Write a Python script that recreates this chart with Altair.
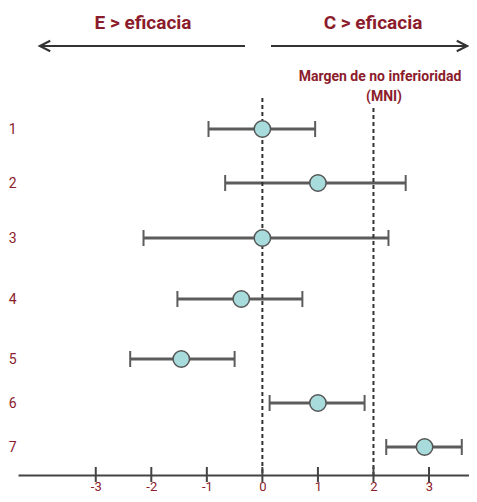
import altair as alt
import pandas as pd

rows = [1, 2, 3, 4, 5, 6, 7]
estimate = [0.0, 1.0, 0.0, -0.38, -1.46, 1.0, 2.92]
ci_low = [-0.97, -0.67, -2.14, -1.53, -2.38, 0.13, 2.23]
ci_high = [0.95, 2.58, 2.27, 0.72, -0.50, 1.84, 3.59]
x_ticks = [-3, -2, -1, 0, 1, 2, 3]
ref_lines = [0, 2]
header_left = "E > eficacia"
header_right = "C > eficacia"
mni_lines = ["Margen de no inferioridad", "(MNI)"]

df = pd.DataFrame({"row": rows, "est": estimate, "lo": ci_low, "hi": ci_high})
ticks_df = pd.DataFrame({"t": x_ticks})
one = pd.DataFrame({"a": [0]})

RED = "#8B1C2C"
FONT = "Roboto"

W, H = 451, 467
xscale = alt.Scale(domain=[-4.4, 3.72], nice=False, zero=False)
yscale = alt.Scale(domain=rows, range=[121, 175, 230, 291, 351, 395, 439])

xaxis = alt.Axis(values=x_ticks, grid=False, ticks=False, domainColor="#444",
                 domainWidth=2, labelColor=RED, labelFont=FONT, labelFontSize=13,
                 labelPadding=5, title=None, labelExpr="'' + datum.value")
yaxis = alt.Axis(values=rows, grid=False, ticks=False, domain=False, labelColor=RED,
                 labelFont=FONT, labelFontSize=14, labelPadding=2, title=None,
                 labelExpr="'' + datum.value")

base = alt.Chart(df)

ci = base.mark_rule(color="#5c5c5c", strokeWidth=3).encode(
    x=alt.X("lo:Q", scale=xscale, axis=xaxis),
    x2="hi:Q",
    y=alt.Y("row:Q", scale=yscale, axis=yaxis),
)
cap_lo = base.mark_rule(color="#5c5c5c", strokeWidth=2, yOffset=-8, y2Offset=8).encode(
    x=alt.X("lo:Q", scale=xscale), y=alt.Y("row:Q", scale=yscale), y2="row:Q")
cap_hi = base.mark_rule(color="#5c5c5c", strokeWidth=2, yOffset=-8, y2Offset=8).encode(
    x=alt.X("hi:Q", scale=xscale), y=alt.Y("row:Q", scale=yscale), y2="row:Q")
pts = base.mark_point(shape="circle", filled=True, size=270, fill="#a8dcdc",
                      stroke="#555", strokeWidth=1.5, opacity=1).encode(
    x=alt.X("est:Q", scale=xscale), y=alt.Y("row:Q", scale=yscale))

ref0 = alt.Chart(pd.DataFrame({"v": [ref_lines[0]]})).mark_rule(
    color="#333", strokeWidth=2, strokeDash=[4, 3]).encode(
    x=alt.X("v:Q", scale=xscale), y=alt.value(90), y2=alt.value(H))
ref2 = alt.Chart(pd.DataFrame({"v": [ref_lines[1]]})).mark_rule(
    color="#333", strokeWidth=2, strokeDash=[4, 3]).encode(
    x=alt.X("v:Q", scale=xscale), y=alt.value(100), y2=alt.value(H))

tick_marks = alt.Chart(ticks_df).mark_rule(color="#444", strokeWidth=2).encode(
    x=alt.X("t:Q", scale=xscale), y=alt.value(H - 8), y2=alt.value(H + 7))

hl = alt.Chart(one).mark_text(font=FONT, fontSize=19, fontWeight="bold", color=RED).encode(
    x=alt.value(125), y=alt.value(15), text=alt.value(header_left))
hr = alt.Chart(one).mark_text(font=FONT, fontSize=19, fontWeight="bold", color=RED).encode(
    x=alt.value(355), y=alt.value(15), text=alt.value(header_right))

arr_l = alt.Chart(one).mark_rule(color="#333", strokeWidth=2).encode(
    x=alt.value(22), x2=alt.value(227), y=alt.value(38))
arr_r = alt.Chart(one).mark_rule(color="#333", strokeWidth=2).encode(
    x=alt.value(253), x2=alt.value(449), y=alt.value(38))
head_l = alt.Chart(one).mark_point(shape="M1,-1L-1,0L1,1", filled=False, color="#333",
                                   strokeWidth=2, size=110, opacity=1).encode(
    x=alt.value(27), y=alt.value(38))
head_r = alt.Chart(one).mark_point(shape="M-1,-1L1,0L-1,1", filled=False, color="#333",
                                   strokeWidth=2, size=110, opacity=1).encode(
    x=alt.value(444), y=alt.value(38))

mni1 = alt.Chart(one).mark_text(font=FONT, fontSize=14, fontWeight="bold", color=RED).encode(
    x=alt.value(362), y=alt.value(69), text=alt.value(mni_lines[0]))
mni2 = alt.Chart(one).mark_text(font=FONT, fontSize=14, fontWeight="bold", color=RED).encode(
    x=alt.value(366), y=alt.value(89), text=alt.value(mni_lines[1]))

chart = alt.layer(
    ci, ref0, ref2, cap_lo, cap_hi, pts, tick_marks,
    hl, hr, arr_l, arr_r, head_l, head_r, mni1, mni2,
).properties(
    width=W, height=H,
    autosize=alt.AutoSizeParams(type="none"),
    padding={"left": 10, "top": 0, "right": 0, "bottom": 19},
    background="white",
).configure_view(stroke=None)

chart.save("out.html", embed_options={"renderer": "svg", "actions": False})
